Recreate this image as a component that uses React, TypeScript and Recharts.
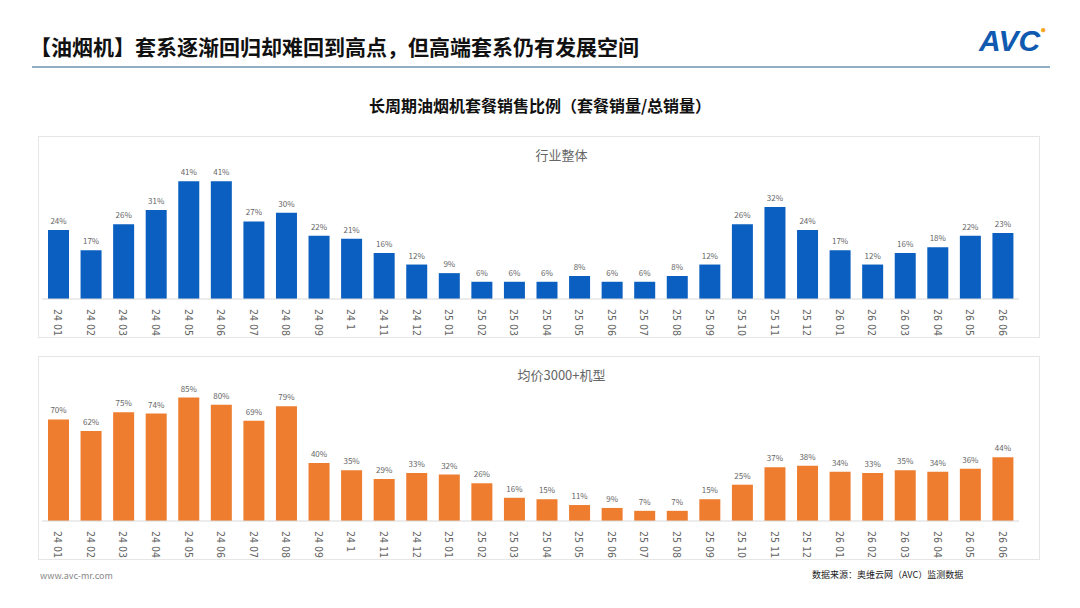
import React from "react";
import { BarChart, Bar, XAxis, YAxis, LabelList } from "recharts";

const months = ["24.01","24.02","24.03","24.04","24.05","24.06","24.07","24.08","24.09","24.1","24.11","24.12","25.01","25.02","25.03","25.04","25.05","25.06","25.07","25.08","25.09","25.10","25.11","25.12","26.01","26.02","26.03","26.04","26.05","26.06"];
const industry = [24,17,26,31,41,41,27,30,22,21,16,12,9,6,6,6,8,6,6,8,12,26,32,24,17,12,16,18,22,23];
const premium = [70,62,75,74,85,80,69,79,40,35,29,33,32,26,16,15,11,9,7,7,15,25,37,38,34,33,35,34,36,44];

const font = "'Noto Sans CJK SC', 'Microsoft YaHei', sans-serif";

const Tick = (props: any) => {
  const { x, y, payload } = props;
  return (
    <text x={x} y={y} transform={`rotate(90 ${x} ${y})`} dx={2} dy={4} fontSize={10.5} fill="#666" fontFamily="'DejaVu Sans Condensed', 'Liberation Sans Narrow', sans-serif">
      {payload.value.replace(".", " ")}
    </text>
  );
};

function Panel({ top, title, values, color, max, mTop, ph, h }: any) {
  const data = months.map((m, i) => ({ m, v: values[i] }));
  return (
    <div style={{ position: "absolute", left: 38, top, width: 1002, height: h, border: "1px solid #e6e6e6", boxSizing: "border-box" }}>
      <div style={{ position: "absolute", top: 8, left: 0, width: 1045, textAlign: "center", fontSize: 13, color: "#666", fontFamily: font }}>{title}</div>
      <BarChart width={1000} height={h - 2} data={data} margin={{ top: mTop, right: 20, left: 3, bottom: 0 }} barSize={21} style={{ overflow: "visible" }}>
        <XAxis dataKey="m" tick={<Tick />} tickLine={false} axisLine={{ stroke: "#d9d9d9" }} interval={0} height={h - 2 - mTop - ph} />
        <YAxis hide domain={[0, max]} />
        <Bar dataKey="v" fill={color} isAnimationActive={false}>
          <LabelList dataKey="v" position="top" formatter={(v: any) => `${v}%`} fontSize={8} fill="#666" offset={6} />
        </Bar>
      </BarChart>
    </div>
  );
}

export default function App() {
  return (
    <div style={{ position: "relative", width: 1080, height: 608, background: "#fff", margin: -8, fontFamily: font }}>
      <div style={{ position: "absolute", left: 30, top: 31, fontSize: 21, fontWeight: 700, color: "#111" }}>【油烟机】套系逐渐回归却难回到高点，但高端套系仍有发展空间</div>
      <div style={{ position: "absolute", left: 979, top: 24, fontSize: 30, fontWeight: 900, color: "#1059b0", fontStyle: "italic", fontFamily: "Arial, sans-serif" }}>AVC<span style={{ color: "#f5a623", fontSize: 10, verticalAlign: "top" }}>●</span></div>
      <div style={{ position: "absolute", left: 32, top: 66, width: 1018, height: 2, background: "#8fb0c4" }} />
      <div style={{ position: "absolute", left: 0, top: 93, width: 1080, textAlign: "center", fontSize: 16, fontWeight: 700, color: "#111" }}>长周期油烟机套餐销售比例（套餐销量/总销量）</div>
      <Panel top={136} h={202} title="行业整体" values={industry} color="#0a5fc0" max={48.4} mTop={23} ph={139} />
      <Panel top={356} h={204} title="均价3000+机型" values={premium} color="#ee7d2f" max={93} mTop={29} ph={135} />
      <div style={{ position: "absolute", left: 40, top: 569, fontSize: 9, color: "#888" }}>www.avc-mr.com</div>
      <div style={{ position: "absolute", left: 812, top: 568, fontSize: 9, color: "#222" }}>数据来源：奥维云网（AVC）监测数据</div>
    </div>
  );
}
